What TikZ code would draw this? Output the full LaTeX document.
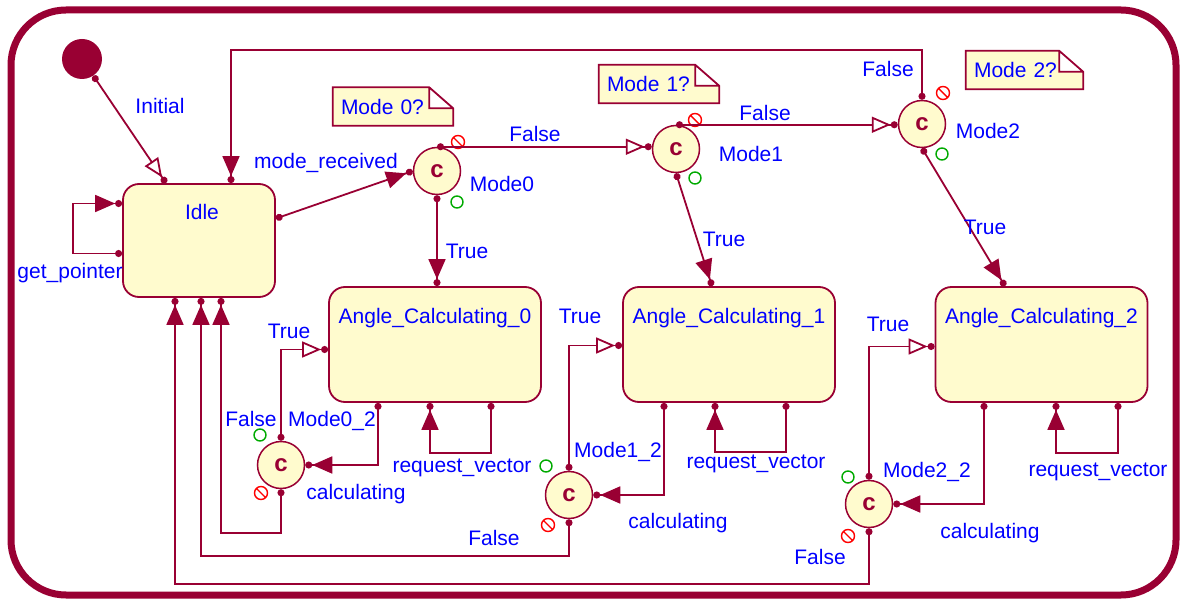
\documentclass[tikz,border=0pt]{standalone}
\usepackage{fontspec}
\setmainfont{Liberation Sans}
\usetikzlibrary{arrows.meta, backgrounds}
\definecolor{sred}{RGB}{153,0,51}
\definecolor{syellow}{RGB}{255,251,206}
\definecolor{sblue}{RGB}{0,0,255}
\definecolor{sgreen}{RGB}{0,170,0}

\begin{document}
\begin{tikzpicture}[x=1pt, y=-1pt,
  state/.style={
    rectangle, rounded corners=16pt,
    draw=sred, fill=syellow, line width=1.8pt,
    minimum width=212pt, minimum height=115pt
  },
  choice/.style={
    circle, draw=sred, fill=syellow, line width=1.5pt,
    minimum size=47pt, inner sep=0pt, text=sred,
    font=\fontsize{24}{24}\selectfont\bfseries
  },
  note/.style={
    rectangle, inner xsep=8pt, inner ysep=0pt,
    text width=104pt, align=left, minimum height=38pt,
    text=sblue, font=\fontsize{21}{21}\selectfont
  },
  lbl/.style={text=sblue, inner sep=0pt, text height=14pt, text depth=0pt,
    font=\fontsize{21}{21}\selectfont},
  arr/.style={draw=sred, line width=1.8pt,
    {Circle[length=7pt]}-{Triangle[length=20pt,width=17pt] Circle[length=7pt]}},
  oarr/.style={draw=sred, line width=1.8pt,
    {Circle[length=7pt]}-{Triangle[open,fill=white,length=19pt,width=16pt] Circle[length=7pt]}},
  nogo/.style={draw=red, line width=1.4pt},
  yes/.style={draw=sgreen, line width=1.4pt}
]
  \useasboundingbox (0,0) rectangle (1184,601);

  % outer frame
  \draw[sred, line width=7pt, rounded corners=55pt] (11,10) rectangle (1176,595);

  % states
  \node[circle, fill=sred, minimum size=40pt, inner sep=0pt] (init) at (82,59) {};
  \node[state, minimum width=152pt, minimum height=113pt,
    label={[lbl,anchor=north,xshift=3pt,yshift=-22pt]north:Idle}] (idle) at (199,240.5) {};
  \node[state, label={[lbl,anchor=north,yshift=-23pt]north:Angle\_Calculating\_0}] (ac0) at (435,344.5) {};
  \node[state, label={[lbl,anchor=north,yshift=-23pt]north:Angle\_Calculating\_1}] (ac1) at (729,344.5) {};
  \node[state, label={[lbl,anchor=north,yshift=-23pt]north:Angle\_Calculating\_2}] (ac2) at (1041.5,344.5) {};

  % choice points
  \node[choice] (m0) at (437,171) {c};
  \node[choice] (m1) at (676,149) {c};
  \node[choice] (m2) at (922,124) {c};
  \node[choice] (m02) at (281,465) {c};
  \node[choice] (m12) at (569,495) {c};
  \node[choice] (m22) at (869,504) {c};

  % notes
  \node[note] (n0) at (393,106.5) {Mode 0?};
  \node[note] (n1) at (659,84) {Mode 1?};
  \node[note, text width=101pt] (n2) at (1024.5,70) {Mode 2?};
  \begin{scope}[on background layer]
    \foreach \n in {n0,n1,n2}
      \filldraw[draw=sred, fill=syellow, line width=1.8pt]
        (\n.south west) -- (\n.north west) -- ([xshift=-24pt]\n.north east)
        -- ([yshift=-21pt]\n.north east) -- (\n.south east) -- cycle
        ([xshift=-24pt]\n.north east) |- ([yshift=-21pt]\n.north east);
  \end{scope}

  % guard markers
  \foreach \c/\rx/\ry/\gx/\gy in {m0/21/-29/20/31, m1/19/-29/19/29, m2/21/-31/20/30,
      m02/-20/28/-21/-30, m12/-21/30/-23/-29, m22/-21/32/-21/-27} {
    \draw[nogo] ([shift={(\rx,\ry)}]\c.center) circle (6.5pt) ++(-4,-4) -- ++(8,8);
    \draw[yes] ([shift={(\gx,\gy)}]\c.center) circle (6pt);
  }

  % transitions
  \draw[oarr] (init) -- ([xshift=-33pt]idle.north);
  \draw[arr] ([yshift=-13pt]idle.west) -- ++(-49,0) |- ([yshift=37pt]idle.west);
  \draw[arr] ([yshift=22pt]idle.east) -- (m0.west);
  \draw[oarr] (m0.north) -- (m0.north -| m1.west);
  \draw[oarr] (m1.north) -- (m1.north -| m2.west);
  \draw[arr] (m2.north) -- ++(0,-50) -| ([xshift=32pt]idle.north);
  \draw[arr] (m0.south) -- (m0.south |- ac0.north);
  \draw[arr] (m1.south) -- ([xshift=-17pt]ac1.north);
  \draw[arr] (m2.south) -- ([xshift=-36.5pt]ac2.north);

  \draw[arr] ([xshift=-57pt]ac0.south) |- (m02.east);
  \draw[arr] ([xshift=-65pt]ac1.south) |- (m12.east);
  \draw[arr] ([xshift=-57.5pt]ac2.south) |- (m22.east);

  \draw[oarr] (m02.north) |- ([yshift=-5pt]ac0.west);
  \draw[oarr] (m12.north) |- ([yshift=-1pt]ac1.west);
  \draw[oarr] (m22.north) |- ([yshift=-2pt]ac2.west);

  \draw[arr] (m02.south) -- ++(0,44) -| ([xshift=22pt]idle.south);
  \draw[arr] (m12.south) -- ++(0,37) -| ([xshift=2pt]idle.south);
  \draw[arr] (m22.south) -- ++(0,56) -| ([xshift=-24pt]idle.south);

  \draw[arr] ([xshift=56pt]ac0.south) -- ++(0,50) -| ([xshift=-5pt]ac0.south);
  \draw[arr] ([xshift=57pt]ac1.south) -- ++(0,49) -| ([xshift=-14pt]ac1.south);
  \draw[arr] ([xshift=76.5pt]ac2.south) -- ++(0,50) -| ([xshift=14.5pt]ac2.south);

  % labels
  \node[lbl] (linit) at (160,107) {Initial};
  \node[lbl] (lmr) at (326,162) {mode\_received};
  \node[lbl] (lgp) at (70,272) {get\_pointer};
  \node[lbl] (lf0) at (535,135) {False};
  \node[lbl] (lf1) at (765,114) {False};
  \node[lbl] (lf2) at (888,70) {False};
  \node[lbl] (lt0) at (467,252) {True};
  \node[lbl] (lt1) at (724,240) {True};
  \node[lbl] (lt2) at (985,228) {True};
  \node[lbl] (lm0) at (502,185) {Mode0};
  \node[lbl] (lm1) at (751,155) {Mode1};
  \node[lbl] (lm2) at (988,132) {Mode2};
  \node[lbl] (lm02) at (332,420) {Mode0\_2};
  \node[lbl] (lm12) at (618,450) {Mode1\_2};
  \node[lbl] (lm22) at (927,471) {Mode2\_2};
  \node[lbl] (lt02) at (289,332) {True};
  \node[lbl] (lt12) at (580,317) {True};
  \node[lbl] (lt22) at (888,325) {True};
  \node[lbl] (lf02) at (251,420) {False};
  \node[lbl] (lf12) at (494,538) {False};
  \node[lbl] (lf22) at (820,557) {False};
  \node[lbl] (lc0) at (356,493) {calculating};
  \node[lbl] (lc1) at (678,521) {calculating};
  \node[lbl] (lc2) at (990,531) {calculating};
  \node[lbl] (lr0) at (462,465) {request\_vector};
  \node[lbl] (lr1) at (756,462) {request\_vector};
  \node[lbl] (lr2) at (1098,470) {request\_vector};
\end{tikzpicture}
\end{document}
